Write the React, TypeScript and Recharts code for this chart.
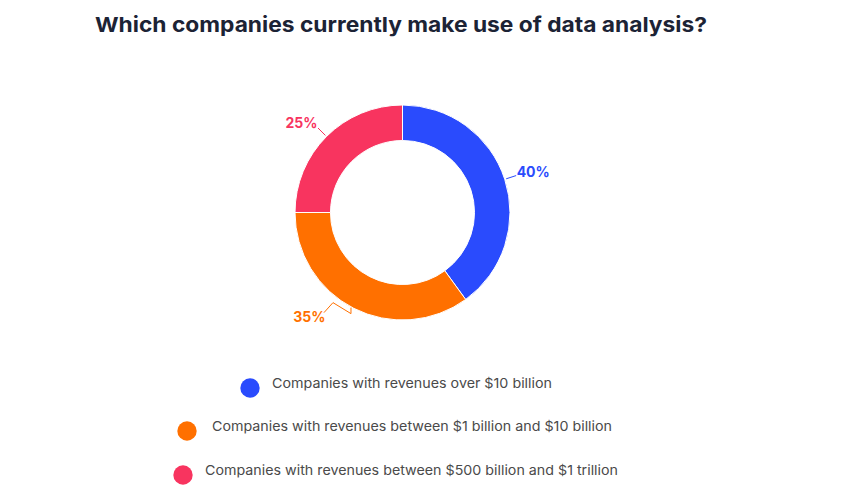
import React from 'react';
import { PieChart, Pie, Cell, Legend } from 'recharts';

const categories = [
  'Companies with revenues over $10 billion',
  'Companies with revenues between $1 billion and $10 billion',
  'Companies with revenues between $500 billion and $1 trillion',
];
const shares = [40, 35, 25];
const colors = ['#2a4bfd', '#ff7000', '#f8345f'];
const title = 'Which companies currently make use of data analysis?';

const data = categories.map((name, i) => ({ name, value: shares[i], color: colors[i] }));

const RAD = Math.PI / 180;

const renderLabel = (props: any) => {
  const { cx, cy, midAngle, outerRadius, index, value } = props;
  const color = colors[index];
  const cos = Math.cos(-midAngle * RAD);
  const sin = Math.sin(-midAngle * RAD);
  const p = (r: number) => [cx + r * cos, cy + r * sin];
  const [x0, y0] = p(outerRadius + 1.5);
  let pts: number[][];
  let tx: number;
  let ty: number;
  let anchor: 'start' | 'end';
  if (index === 1) {
    // bracket-like leader
    const [ax, ay] = p(outerRadius + 6);
    pts = [
      [ax, ay - 6],
      [ax, ay],
      [ax - 18, ay - 11],
      [ax - 27, ay - 1],
    ];
    tx = ax - 25.5;
    ty = ay + 2.5;
    anchor = 'end';
  } else {
    const [x1, y1] = p(outerRadius + 12);
    pts = [
      [x0, y0],
      [x1, y1],
    ];
    if (cos >= 0) {
      tx = x1 + 0.5;
      ty = y1 - 4.5;
      anchor = 'start';
    } else {
      tx = x1 - 0.5;
      ty = y1 - 6;
      anchor = 'end';
    }
  }
  return (
    <g key={`lbl-${index}`}>
      <polyline
        points={pts.map((q) => q.join(',')).join(' ')}
        fill="none"
        stroke={color}
        strokeWidth={1}
      />
      <text
        x={tx}
        y={ty}
        textAnchor={anchor}
        dominantBaseline="central"
        fill={color}
        fontFamily="Inter, 'Open Sans', sans-serif"
        fontWeight={700}
        fontSize={14}
      >
        {`${value}%`}
      </text>
    </g>
  );
};

const legendPos = [
  { cx: 250, cy: 388, tx: 272, ty: 387.5, w: 280 },
  { cx: 187, cy: 431, tx: 212, ty: 431, w: 400 },
  { cx: 183, cy: 475, tx: 205, ty: 474.5, w: 413 },
];
const LEGEND_TOP = 365;

const renderLegend = () => (
  <svg width={843} height={130} style={{ display: 'block' }}>
    {data.map((d, i) => {
      const lp = legendPos[i];
      return (
        <g key={d.name}>
          <circle cx={lp.cx} cy={lp.cy - LEGEND_TOP} r={9.7} fill={d.color} />
          <text
            x={lp.tx}
            y={lp.ty - LEGEND_TOP}
            fill="#4a4a4a"
            fontFamily="Inter, 'Open Sans', sans-serif"
            fontWeight={400}
            fontSize={13.5}
            textLength={lp.w}
            lengthAdjust="spacingAndGlyphs"
          >
            {d.name}
          </text>
        </g>
      );
    })}
  </svg>
);

export default function App() {
  return (
    <div style={{ position: 'fixed', left: 0, top: 0, width: 843, height: 495, background: '#fff' }}>
      <svg width={843} height={50} style={{ position: 'absolute', left: 0, top: 0 }}>
        <text
          x={95}
          y={31.5}
          fill="#1c2335"
          fontFamily="Inter, 'Open Sans', sans-serif"
          fontWeight={700}
          fontSize={20.5}
          textLength={612}
          lengthAdjust="spacingAndGlyphs"
        >
          {title}
        </text>
      </svg>
      <PieChart width={843} height={495} margin={{ top: 0, right: 0, bottom: 0, left: 0 }}>
        <Pie
          data={data}
          dataKey="value"
          nameKey="name"
          cx={402.5}
          cy={212.5}
          innerRadius={72}
          outerRadius={107.5}
          startAngle={90}
          endAngle={-270}
          stroke="#ffffff"
          strokeWidth={1}
          isAnimationActive={false}
          label={renderLabel}
          labelLine={false}
        >
          {data.map((d) => (
            <Cell key={d.name} fill={d.color} />
          ))}
        </Pie>
        <Legend
          content={renderLegend}
          verticalAlign="bottom"
          wrapperStyle={{ position: 'absolute', left: 0, top: LEGEND_TOP, width: 843, height: 130 }}
        />
      </PieChart>
    </div>
  );
}
